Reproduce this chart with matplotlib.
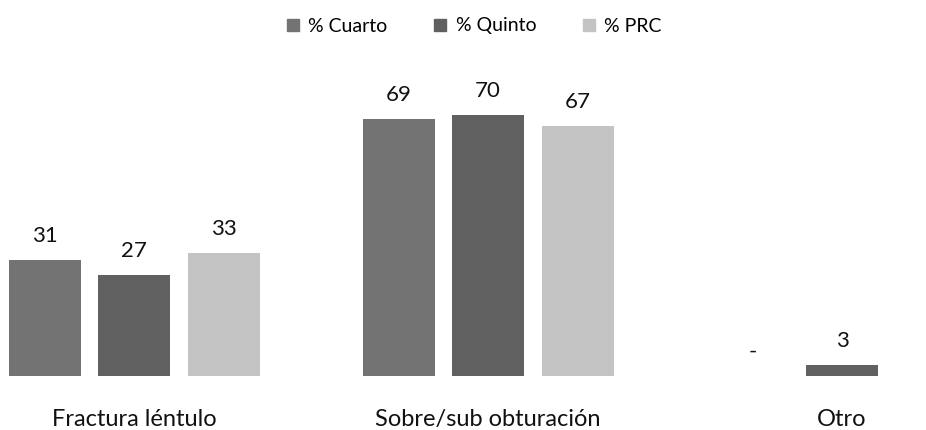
import numpy as np
import matplotlib.pyplot as plt
from matplotlib.lines import Line2D

plt.rcParams['font.family'] = ['Lato', 'DejaVu Sans']

categories = ['Fractura léntulo', 'Sobre/sub obturación', 'Otro']
series_names = ['% Cuarto', '% Quinto', '% PRC']
cuarto = [31, 69, 0]
quinto = [27, 70, 3]
prc = [33, 67, np.nan]
colors = ['#737373', '#606060', '#c3c3c3']

fig = plt.figure(figsize=(9.26, 4.30), dpi=100)
ax = fig.add_axes([0, 54 / 430, 1, 376 / 430])

x = np.arange(len(categories))
pitch = 89.5 / 354
width = 72 / 354

for i, (vals, c) in enumerate(zip([cuarto, quinto, prc], colors)):
    pos = x + (i - 1) * pitch
    for p, v in zip(pos, vals):
        if np.isnan(v):
            continue
        ax.bar(p, v, width=width, color=c)
        label = '-' if v == 0 else str(v)
        ax.annotate(label, (p, v), xytext=(0, 10), textcoords='offset points',
                    ha='center', va='bottom', fontsize=16, color='#111111')

ax.set_xlim(-134 / 354, (926 - 134) / 354)
ax.set_ylim(0, 376 / 3.73)
ax.set_axis_off()

for xi, cat in zip(x, categories):
    ax.annotate(cat, (xi, 0), xytext=(0, -31), textcoords='offset points',
                ha='center', va='center', fontsize=17, color='#111111')

handles = [Line2D([], [], marker='s', linestyle='none', markersize=9,
                  markerfacecolor=c, markeredgecolor=c) for c in colors]
fig.legend(handles, series_names, loc='upper center', bbox_to_anchor=(0.51, 1.0),
           ncol=3, frameon=False, fontsize=14, handletextpad=0.3,
           columnspacing=2.2, handlelength=1.0)

fig.savefig('out.png', dpi=100)
